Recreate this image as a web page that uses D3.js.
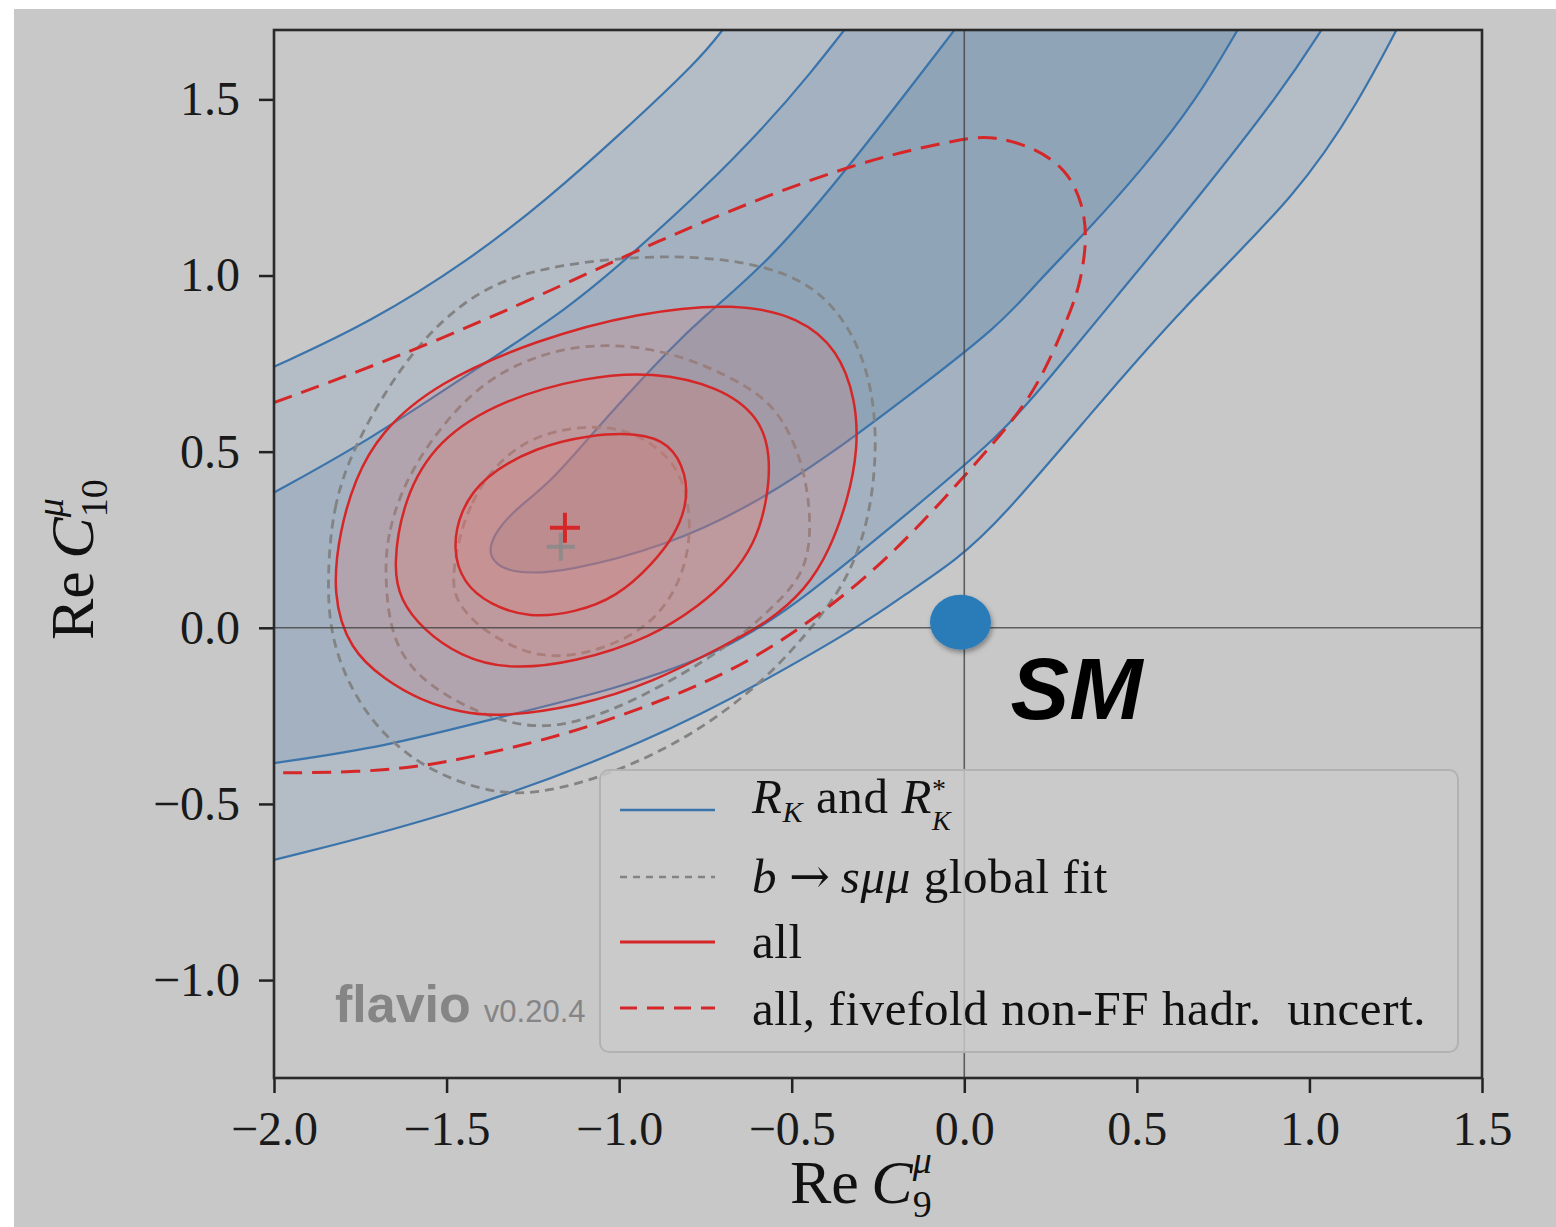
<!DOCTYPE html>
<html>
<head>
<meta charset="utf-8">
<script src="https://cdn.jsdelivr.net/npm/d3@7"></script>
<style>
  html, body { margin: 0; padding: 0; background: #ffffff; }
  svg { display: block; }
</style>
</head>
<body>
<svg id="chart" width="1556" height="1227"></svg>
<script>
// Constraints in the (Re C9^mu, Re C10^mu) plane

const xTicks = [-2.0, -1.5, -1.0, -0.5, 0.0, 0.5, 1.0, 1.5];
const yTicks = [-1.0, -0.5, 0.0, 0.5, 1.0, 1.5];

// R_K and R_K* : 3 sigma band, upper/left branch (left edge -> top edge)
const rk3Upper = [
  [-2.000, 0.741], [-1.722, 0.866], [-1.432, 1.045], [-1.209, 1.216], [-0.997, 1.401],
  [-0.766, 1.614], [-0.699, 1.699]
];
// 3 sigma band, lower/right branch (left edge -> top edge)
const rk3Lower = [
  [-2.000, -0.659], [-1.458, -0.526], [-0.902, -0.318], [-0.572, -0.148], [-0.273, 0.023],
  [-0.186, 0.085], [-0.021, 0.193], [0.103, 0.304], [0.364, 0.605], [0.625, 0.903],
  [0.973, 1.236], [1.146, 1.500], [1.253, 1.699]
];
// 2 sigma band, upper/left branch
const rk2Upper = [
  [-2.000, 0.384], [-1.722, 0.534], [-1.432, 0.724], [-1.142, 0.909], [-0.948, 1.074],
  [-0.766, 1.236], [-0.572, 1.429], [-0.441, 1.580], [-0.346, 1.699]
];
// 2 sigma band, lower/right branch
const rk2Lower = [
  [-2.000, -0.384], [-1.678, -0.338], [-1.345, -0.253], [-1.015, -0.176], [-0.682, -0.063],
  [-0.459, 0.088], [-0.186, 0.307], [0.103, 0.543], [0.248, 0.710], [0.434, 0.932],
  [0.674, 1.216], [0.923, 1.528], [1.036, 1.699]
];
// 1 sigma region (top edge -> tip -> top edge)
const rk1 = [
  [-0.027, 1.699], [-0.323, 1.321], [-0.564, 1.040], [-0.766, 0.875], [-0.853, 0.790],
  [-0.969, 0.670], [-1.085, 0.543], [-1.200, 0.412], [-1.302, 0.335], [-1.354, 0.278],
  [-1.380, 0.222], [-1.360, 0.179], [-1.296, 0.153], [-1.151, 0.159], [-0.862, 0.233],
  [-0.621, 0.344], [-0.388, 0.491], [-0.157, 0.662], [0.103, 0.858], [0.219, 0.989],
  [0.344, 1.114], [0.518, 1.304], [0.674, 1.500], [0.793, 1.699]
];

// b -> s mu mu global fit (closed contours, 1/2/3 sigma)
const globalFit1 = [
  [-1.490, 0.136], [-1.441, 0.364], [-1.297, 0.534], [-1.105, 0.577], [-0.961, 0.563],
  [-0.833, 0.472], [-0.795, 0.349], [-0.795, 0.222], [-0.839, 0.094], [-0.926, -0.006],
  [-1.071, -0.071], [-1.235, -0.091], [-1.389, -0.014], [-1.467, 0.065]
];
const globalFit2 = [
  [-1.679, 0.136], [-1.673, 0.270], [-1.606, 0.457], [-1.432, 0.676], [-1.258, 0.770],
  [-1.076, 0.810], [-0.853, 0.790], [-0.612, 0.685], [-0.520, 0.591], [-0.462, 0.449],
  [-0.442, 0.293], [-0.459, 0.151], [-0.572, 0.043], [-0.682, -0.054], [-0.957, -0.213],
  [-1.180, -0.290], [-1.345, -0.270], [-1.545, -0.176], [-1.658, -0.054]
];
const globalFit3 = [
  [-1.847, 0.136], [-1.829, 0.349], [-1.771, 0.506], [-1.679, 0.670], [-1.577, 0.810],
  [-1.461, 0.918], [-1.337, 0.989], [-1.172, 1.031], [-0.949, 1.054], [-0.757, 1.054],
  [-0.563, 1.026], [-0.418, 0.960], [-0.317, 0.832], [-0.265, 0.676], [-0.253, 0.506],
  [-0.273, 0.321], [-0.325, 0.165], [-0.404, 0.043], [-0.572, -0.148], [-0.792, -0.310],
  [-1.015, -0.412], [-1.180, -0.460], [-1.345, -0.480], [-1.568, -0.403], [-1.733, -0.261],
  [-1.835, -0.054]
];

// all constraints combined (closed contours, 1/2/3 sigma)
const all1 = [
  [-1.482, 0.222], [-1.462, 0.330], [-1.395, 0.429], [-1.239, 0.514], [-1.084, 0.548],
  [-0.948, 0.554], [-0.853, 0.526], [-0.804, 0.435], [-0.804, 0.349], [-0.838, 0.264],
  [-0.905, 0.179], [-1.006, 0.088], [-1.128, 0.043], [-1.259, 0.028], [-1.375, 0.065],
  [-1.453, 0.128]
];
const all2 = [
  [-1.655, 0.173], [-1.626, 0.364], [-1.528, 0.534], [-1.337, 0.648], [-1.094, 0.713],
  [-0.903, 0.727], [-0.709, 0.685], [-0.593, 0.599], [-0.561, 0.491], [-0.570, 0.364],
  [-0.607, 0.236], [-0.683, 0.136], [-0.765, 0.065], [-0.903, -0.026], [-1.126, -0.099],
  [-1.326, -0.119], [-1.458, -0.082], [-1.568, -0.006], [-1.635, 0.080]
];
const all3 = [
  [-1.832, 0.094], [-1.809, 0.278], [-1.766, 0.420], [-1.694, 0.554], [-1.528, 0.696],
  [-1.238, 0.818], [-0.949, 0.895], [-0.659, 0.923], [-0.476, 0.881], [-0.366, 0.790],
  [-0.314, 0.648], [-0.308, 0.506], [-0.337, 0.364], [-0.389, 0.222], [-0.459, 0.108],
  [-0.572, 0.014], [-0.682, -0.043], [-0.902, -0.156], [-1.125, -0.224], [-1.345, -0.253],
  [-1.458, -0.241], [-1.577, -0.205], [-1.678, -0.148], [-1.780, -0.063]
];

// all constraints, fivefold non-form-factor hadronic uncertainty (open to the left)
const allFivefold = [
  [-2.000, 0.639], [-1.528, 0.810], [-1.047, 1.026], [-0.766, 1.151], [-0.323, 1.321],
  [0.008, 1.392], [0.083, 1.395], [0.199, 1.366], [0.298, 1.301], [0.344, 1.202],
  [0.356, 1.102], [0.335, 0.969], [0.298, 0.875], [0.248, 0.761], [0.190, 0.653],
  [0.103, 0.543], [-0.099, 0.321], [-0.294, 0.128], [-0.572, -0.071], [-0.792, -0.176],
  [-1.125, -0.298], [-1.458, -0.375], [-1.678, -0.409], [-2.000, -0.412]
];

// best-fit points
const bestFitAll = [-1.157, 0.284];
const bestFitGlobal = [-1.169, 0.230];
// Standard Model point
const smPoint = [-0.011, 0.016];

// ---------------------------------------------------------------------------
const W = 1556, H = 1227;
const plot = { left: 274, right: 1482, top: 30, bottom: 1078 };

const x = d3.scaleLinear().domain([-2.0, 1.5]).range([plot.left, plot.right]);
const y = d3.scaleLinear().domain([-1.278, 1.697]).range([plot.bottom, plot.top]);

const svg = d3.select("#chart");
const serif = "'Liberation Serif', 'DejaVu Serif', serif";
const sans = "'Liberation Sans', Arial, sans-serif";

// figure background
svg.append("rect")
  .attr("x", 14).attr("y", 9)
  .attr("width", W - 14).attr("height", H - 9)
  .attr("fill", "#c8c8c8");

const defs = svg.append("defs");
defs.append("clipPath").attr("id", "plotClip")
  .append("rect")
  .attr("x", plot.left).attr("y", plot.top)
  .attr("width", plot.right - plot.left).attr("height", plot.bottom - plot.top);
const shadow = defs.append("filter").attr("id", "dotShadow")
  .attr("x", "-30%").attr("y", "-30%").attr("width", "160%").attr("height", "170%");
shadow.append("feDropShadow")
  .attr("dx", 1.5).attr("dy", 3).attr("stdDeviation", 2.5)
  .attr("flood-color", "#000").attr("flood-opacity", 0.35);

// smooth contour generators
const openCurve = d3.line()
  .x(d => x(d[0])).y(d => y(d[1]))
  .curve(d3.curveBasis);
const closedCurve = d3.line()
  .x(d => x(d[0])).y(d => y(d[1]))
  .curve(d3.curveBasisClosed);
// band between two branches that both start on the left edge and end on the top edge
function bandPath(upper, lower) {
  const back = openCurve(lower.slice().reverse());
  return openCurve(upper) + "L" + back.slice(1) + "Z";
}

const g = svg.append("g").attr("clip-path", "url(#plotClip)");

// plot area background
g.append("rect")
  .attr("x", plot.left).attr("y", plot.top)
  .attr("width", plot.right - plot.left).attr("height", plot.bottom - plot.top)
  .attr("fill", "#c8c8c8");

// R_K / R_K* filled bands
const blueLine = "#3a74ab";
g.append("path").attr("d", bandPath(rk3Upper, rk3Lower)).attr("fill", "#b4bcc6");
g.append("path").attr("d", bandPath(rk2Upper, rk2Lower)).attr("fill", "#a3b1c0");
g.append("path").attr("d", openCurve(rk1) + "Z").attr("fill", "#8fa4b7");
[rk3Upper, rk3Lower, rk2Upper, rk2Lower, rk1].forEach(pts => {
  g.append("path").attr("d", openCurve(pts))
    .attr("fill", "none").attr("stroke", blueLine).attr("stroke-width", 2.2);
});

// global fit contours (dashed grey, no fill)
const greyLine = "#838383";
[globalFit1, globalFit2, globalFit3].forEach(pts => {
  g.append("path").attr("d", closedCurve(pts))
    .attr("fill", "none").attr("stroke", greyLine)
    .attr("stroke-width", 2.8).attr("stroke-dasharray", "9,6");
});

// combined fit: translucent fills then solid lines
const red = "#d62728";
[all3, all2, all1].forEach(pts => {
  g.append("path").attr("d", closedCurve(pts))
    .attr("fill", "#e8776c").attr("fill-opacity", 0.22).attr("stroke", "none");
});
[all3, all2, all1].forEach(pts => {
  g.append("path").attr("d", closedCurve(pts))
    .attr("fill", "none").attr("stroke", red).attr("stroke-width", 2.5);
});

// fivefold hadronic uncertainty contour
g.append("path").attr("d", openCurve(allFivefold))
  .attr("fill", "none").attr("stroke", red)
  .attr("stroke-width", 3).attr("stroke-dasharray", "19,10");

// zero lines
g.append("line")
  .attr("x1", x(0)).attr("x2", x(0)).attr("y1", plot.top).attr("y2", plot.bottom)
  .attr("stroke", "#444").attr("stroke-width", 1.6).attr("stroke-opacity", 0.8);
g.append("line")
  .attr("x1", plot.left).attr("x2", plot.right).attr("y1", y(0)).attr("y2", y(0))
  .attr("stroke", "#444").attr("stroke-width", 1.6).attr("stroke-opacity", 0.8);

// best-fit markers
function cross(pt, color, half, opacity) {
  const cx = x(pt[0]), cy = y(pt[1]);
  const c = g.append("g").attr("stroke", color).attr("stroke-width", 4).attr("stroke-opacity", opacity);
  c.append("line").attr("x1", cx - half).attr("x2", cx + half).attr("y1", cy).attr("y2", cy);
  c.append("line").attr("x1", cx).attr("x2", cx).attr("y1", cy - half).attr("y2", cy + half);
}
cross(bestFitGlobal, "#8a8a8a", 14, 0.85);
cross(bestFitAll, red, 15, 1);

// watermark
const wm = svg.append("text")
  .attr("x", 335).attr("y", 1022)
  .attr("font-family", sans).attr("fill", "#858585");
wm.append("tspan").attr("font-size", 52).attr("font-weight", "bold").text("flavio");
wm.append("tspan").attr("font-size", 31).attr("dx", 13).text("v0.20.4");

// legend
const lg = svg.append("g");
lg.append("rect")
  .attr("x", 600).attr("y", 770).attr("width", 858).attr("height", 282).attr("rx", 9)
  .attr("fill", "#cbcbcb").attr("fill-opacity", 0.82)
  .attr("stroke", "#b2b2b2").attr("stroke-width", 2);

// a segment with back: true is stacked under the preceding one
const legendRows = [
  { lineY: 810, textY: 813, stroke: blueLine, width: 2.4, dash: null,
    segs: [
      { t: "R", it: true }, { t: "K", it: true, fs: 30, dy: 9 }, { t: " and ", dy: -9 },
      { t: "R", it: true }, { t: "*", fs: 28, dy: -15 }, { t: "K", it: true, fs: 28, back: true, dy: 32 }
    ] },
  { lineY: 877, textY: 893, stroke: greyLine, width: 2.6, dash: "7,6",
    segs: [
      { t: "b", it: true }, { t: "\u2192", ff: "'DejaVu Serif', serif", dx: 12 },
      { t: "s\u03bc\u03bc", it: true, dx: 10 }, { t: " global fit" }
    ] },
  { lineY: 942, textY: 958, stroke: red, width: 2.8, dash: null,
    segs: [{ t: "all" }] },
  { lineY: 1008, textY: 1025, stroke: red, width: 3, dash: "17,10",
    segs: [{ t: "all, fivefold non-FF hadr.\u00a0 uncert." }] }
];
legendRows.forEach(r => {
  const l = lg.append("line")
    .attr("x1", 620).attr("x2", 715).attr("y1", r.lineY).attr("y2", r.lineY)
    .attr("stroke", r.stroke).attr("stroke-width", r.width);
  if (r.dash) l.attr("stroke-dasharray", r.dash);
  const t = lg.append("text")
    .attr("x", 752).attr("y", r.textY)
    .attr("font-family", serif).attr("font-size", 49)
    .attr("letter-spacing", 0.6).attr("fill", "#111");
  let prev = null;
  r.segs.forEach(s => {
    const sp = t.append("tspan").text(s.t);
    if (s.it) sp.attr("font-style", "italic");
    if (s.fs) sp.attr("font-size", s.fs);
    if (s.ff) sp.attr("font-family", s.ff);
    if (s.dx) sp.attr("dx", s.dx);
    if (s.back && prev) sp.attr("dx", -prev.node().getComputedTextLength());
    if (s.dy) sp.attr("dy", s.dy);
    prev = sp;
  });
});

// SM point and label
svg.append("ellipse")
  .attr("cx", x(smPoint[0])).attr("cy", y(smPoint[1]))
  .attr("rx", 30.5).attr("ry", 27.5)
  .attr("fill", "#2b7bb9").attr("filter", "url(#dotShadow)");
svg.append("text")
  .attr("x", x(smPoint[0]) + 50).attr("y", y(smPoint[1]) + 97)
  .attr("font-family", sans).attr("font-weight", "bold").attr("font-style", "italic")
  .attr("font-size", 88).attr("fill", "#000").text("SM");

// axes
const fmt = d3.format(".1f");
const gx = svg.append("g")
  .attr("transform", `translate(0,${plot.bottom})`)
  .call(d3.axisBottom(x).tickValues(xTicks).tickFormat(fmt).tickSize(15).tickPadding(18));
const gy = svg.append("g")
  .attr("transform", `translate(${plot.left},0)`)
  .call(d3.axisLeft(y).tickValues(yTicks).tickFormat(fmt).tickSize(15).tickPadding(19));
[gx, gy].forEach(a => {
  a.select(".domain").remove();
  a.selectAll(".tick line").attr("stroke", "#222").attr("stroke-width", 2.5);
  a.selectAll(".tick text")
    .attr("font-family", serif).attr("font-size", 48).attr("fill", "#1a1a1a");
});

// frame
svg.append("rect")
  .attr("x", plot.left).attr("y", plot.top)
  .attr("width", plot.right - plot.left).attr("height", plot.bottom - plot.top)
  .attr("fill", "none").attr("stroke", "#2a2a2a").attr("stroke-width", 2.6);

// axis titles: Re C with mu superscript and index subscript stacked
function coefLabel(sel, sub) {
  sel.append("tspan").text("Re\u2009");
  sel.append("tspan").attr("font-style", "italic").text("C");
  const sup = sel.append("tspan").attr("font-style", "italic").attr("font-size", 38)
    .attr("dy", -30).text("\u03bc");
  sel.append("tspan").attr("font-size", 38)
    .attr("dx", -sup.node().getComputedTextLength()).attr("dy", 44).text(sub);
}
const xt = svg.append("text")
  .attr("x", 790).attr("y", 1203)
  .attr("font-family", serif).attr("font-size", 62).attr("fill", "#111");
coefLabel(xt, "9");

const yt = svg.append("text")
  .attr("transform", "translate(93,640) rotate(-90)")
  .attr("font-family", serif).attr("font-size", 62).attr("fill", "#111");
coefLabel(yt, "10");
</script>
</body>
</html>
